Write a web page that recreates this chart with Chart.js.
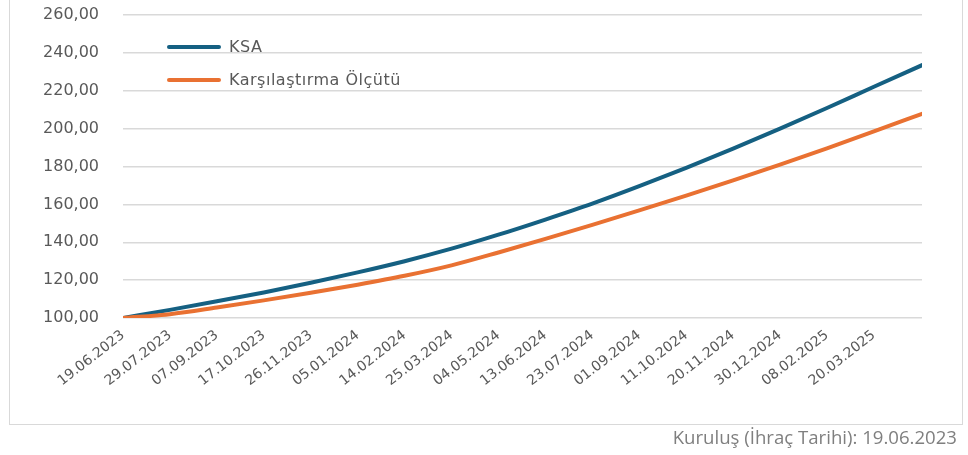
<!DOCTYPE html>
<html>
<head>
<meta charset="utf-8">
<script src="https://cdn.jsdelivr.net/npm/chart.js@4.4.1/dist/chart.umd.min.js"></script>
<style>
  html, body { margin: 0; padding: 0; background: #ffffff; }
  #wrap { position: relative; width: 968px; height: 455px; overflow: hidden; }
  #frame { position: absolute; left: 9px; top: -3px; width: 954px; height: 428px;
           box-sizing: border-box; border: 1px solid #d9d9d9; }
  #c { position: absolute; left: 0; top: 0; }
  #legend { position: absolute; left: 0; top: 0; font-family: "DejaVu Sans", sans-serif;
            font-size: 16px; letter-spacing: 0.5px; color: #595959; }
  .lg-item { position: absolute; height: 20px; white-space: nowrap; }
  .lg-line { position: absolute; left: 0; top: 8px; width: 54px; height: 4px; border-radius: 2px; }
  .lg-text { position: absolute; left: 62px; top: 0; line-height: 20px; }
  #note { position: absolute; right: 11px; top: 424px; font-family: "Open Sans", sans-serif;
          font-size: 18.6px; color: #7f7f7f; white-space: nowrap; }
</style>
</head>
<body>
<div id="wrap">
  <div id="frame"></div>
  <canvas id="c" width="968" height="455"></canvas>
  <div id="legend"></div>
  <div id="note">Kuruluş (İhraç Tarihi): 19.06.2023</div>
</div>
<script>
// ---- data ----
const dates = ['19.06.2023','29.07.2023','07.09.2023','17.10.2023','26.11.2023','05.01.2024',
               '14.02.2024','25.03.2024','04.05.2024','13.06.2024','23.07.2024','01.09.2024',
               '11.10.2024','20.11.2024','30.12.2024','08.02.2025','20.03.2025','30.04.2025'];
const ksa = [100.0, 104.3, 108.8, 113.5, 118.6, 124.1, 130.0, 136.6, 144.0, 152.0,
             160.4, 169.6, 179.3, 189.4, 200.0, 210.9, 222.1, 233.5];
const benchmark = [100.0, 102.0, 105.5, 109.3, 113.3, 117.6, 122.3, 127.8, 134.6, 141.8,
                   149.2, 156.8, 164.6, 172.7, 181.0, 189.6, 198.5, 207.8];
const tickLabels = ['19.06.2023','29.07.2023','07.09.2023','17.10.2023','26.11.2023','05.01.2024',
                    '14.02.2024','25.03.2024','04.05.2024','13.06.2024','23.07.2024','01.09.2024',
                    '11.10.2024','20.11.2024','30.12.2024','08.02.2025','20.03.2025'];
const seriesNames = ['KSA', 'Karşılaştırma Ölçütü'];
const yTicks = [100, 120, 140, 160, 180, 200, 220, 240, 260];

// ---- helpers ----
function dayOf(s) {
  const [d, m, y] = s.split('.').map(Number);
  const base = Date.UTC(2023, 5, 19);
  return Math.round((Date.UTC(y, m - 1, d) - base) / 86400000);
}
const labelByDay = {};
tickLabels.forEach(l => { labelByDay[dayOf(l)] = l; });
function fmt(v) { return v.toFixed(2).replace('.', ','); }

const colors = ['#156082', '#E97132'];
const seriesValues = [ksa, benchmark];

const chart = new Chart(document.getElementById('c'), {
  type: 'line',
  data: {
    datasets: seriesNames.map((name, i) => ({
      label: name,
      data: dates.map((d, j) => ({ x: dayOf(d), y: seriesValues[i][j] })),
      borderColor: colors[i],
      backgroundColor: colors[i],
      borderWidth: 4,
      pointRadius: 0,
      cubicInterpolationMode: 'monotone',
      borderCapStyle: 'round',
      order: 1 - i
    }))
  },
  options: {
    responsive: false,
    animation: false,
    layout: { padding: { left: 0, top: 15, right: 46, bottom: 0 } },
    plugins: { legend: { display: false }, tooltip: { enabled: false } },
    scales: {
      x: {
        type: 'linear',
        min: 0,
        max: dayOf(dates[dates.length - 1]),
        grid: { display: false, drawTicks: false },
        border: { display: false },
        afterBuildTicks: (scale) => { scale.ticks = tickLabels.map(l => ({ value: dayOf(l) })); },
        afterFit: (scale) => { scale.height = 137; },
        ticks: {
          autoSkip: false,
          minRotation: 38,
          maxRotation: 38,
          padding: 9,
          color: '#595959',
          font: { family: 'DejaVu Sans', size: 14 },
          callback: (v) => labelByDay[v] || ''
        }
      },
      y: {
        min: 100,
        max: 260,
        afterBuildTicks: (scale) => { scale.ticks = yTicks.map(v => ({ value: v })); },
        afterFit: (scale) => { scale.width = 123; scale.paddingTop = 0; scale.paddingBottom = 0; },
        grid: { color: '#d9d9d9', lineWidth: 1.5, drawTicks: false },
        border: { display: false },
        ticks: {
          padding: 24,
          color: '#595959',
          font: { family: 'DejaVu Sans', size: 16 },
          callback: (v) => fmt(v)
        }
      }
    }
  }
});

// ---- HTML legend built from the chart's datasets ----
const legend = document.getElementById('legend');
chart.data.datasets.forEach((ds, i) => {
  const item = document.createElement('div');
  item.className = 'lg-item';
  item.style.left = '167px';
  item.style.top = (37 + i * 33) + 'px';
  const line = document.createElement('div');
  line.className = 'lg-line';
  line.style.background = ds.borderColor;
  const txt = document.createElement('span');
  txt.className = 'lg-text';
  txt.textContent = ds.label;
  item.appendChild(line);
  item.appendChild(txt);
  legend.appendChild(item);
});
</script>
</body>
</html>
